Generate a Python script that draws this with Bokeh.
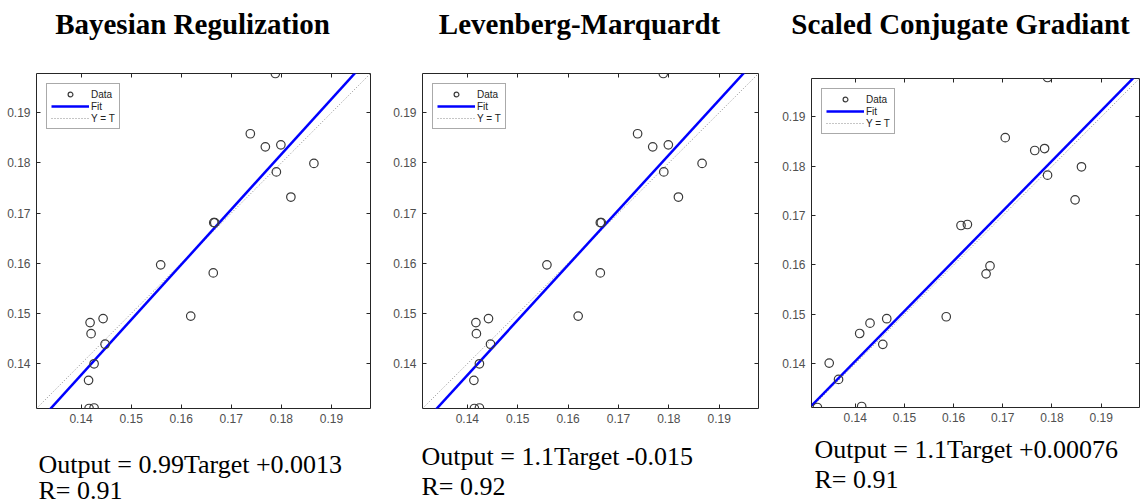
from bokeh.plotting import figure
from bokeh.layouts import row, column
from bokeh.models import Range1d, FixedTicker, LinearAxis, Legend, LegendItem
from bokeh.core.properties import value
from bokeh.embed import file_html
from bokeh.resources import INLINE

# ---------------- data ----------------
titles = ["Bayesian Regulization", "Levenberg-Marquardt", "Scaled Conjugate Gradiant"]
equations = ["Output = 0.99Target +0.0013", "Output = 1.1Target -0.015", "Output = 1.1Target +0.00076"]
r_texts = ["R= 0.91", "R= 0.92", "R= 0.91"]
tick_values = [0.14, 0.15, 0.16, 0.17, 0.18, 0.19]

br_target = [0.1788, 0.1738, 0.1768, 0.1799, 0.1865, 0.1790, 0.1819, 0.1665, 0.1667, 0.1559,
             0.1664, 0.1619, 0.1418, 0.1444, 0.1420, 0.1448, 0.1426, 0.1415, 0.1416, 0.1426]
br_output = [0.1978, 0.1858, 0.1832, 0.1836, 0.1799, 0.1782, 0.1732, 0.1681, 0.1681, 0.1597,
             0.1581, 0.1495, 0.1482, 0.1490, 0.1460, 0.1439, 0.1400, 0.1367, 0.1311, 0.1312]

lm_target = [0.1789, 0.1738, 0.1768, 0.1799, 0.1866, 0.1790, 0.1819, 0.1664, 0.1666, 0.1558,
             0.1664, 0.1620, 0.1417, 0.1442, 0.1418, 0.1446, 0.1424, 0.1413, 0.1414, 0.1424]
lm_output = [0.1978, 0.1858, 0.1832, 0.1836, 0.1799, 0.1782, 0.1732, 0.1681, 0.1681, 0.1597,
             0.1581, 0.1495, 0.1482, 0.1490, 0.1460, 0.1439, 0.1400, 0.1367, 0.1311, 0.1312]

scg_target = [0.1791, 0.1705, 0.1765, 0.1785, 0.1860, 0.1791, 0.1847, 0.1615, 0.1628, 0.1674,
              0.1666, 0.1585, 0.1430, 0.1464, 0.1409, 0.1456, 0.1347, 0.1366, 0.1323, 0.1413]
scg_output = [0.1980, 0.1858, 0.1832, 0.1836, 0.1799, 0.1782, 0.1732, 0.1680, 0.1682, 0.1598,
              0.1582, 0.1495, 0.1482, 0.1491, 0.1461, 0.1439, 0.1401, 0.1368, 0.1311, 0.1313]

fit_slope = [1.099, 1.096, 1.015]
fit_intercept = [-0.0161, -0.0157, -0.0016]
axis_limits = [0.1311, 0.1978]

targets = [br_target, lm_target, scg_target]
outputs = [br_output, lm_output, scg_output]

# ---------------- layout (pixels) ----------------
col_width = [385, 390, 366]
TITLE_H, PLOT_H, EQ_H = 60, 372, 72
# plot borders: left, right, top, bottom
borders = [(36, 15, 13, 24), (37, 17, 13, 24), (36, 2, 18, 25)]
title_pos = [(192, 23), (194, 23), (185, 23)]          # centre x, baseline
eq_pos = [(38, 32, 58), (36, 24, 54), (39, 17, 47)]    # x, baseline line 1, baseline line 2

TICK_FONT = "Liberation Sans"
SERIF = "Liberation Serif"
FRAME = "#262626"


def text_fig(w, h):
    f = figure(width=w, height=h, output_backend="svg", toolbar_location=None, title=None,
               x_range=Range1d(0, w), y_range=Range1d(h, 0),
               x_axis_type=None, y_axis_type=None,
               min_border=0, min_border_left=0, min_border_right=0,
               min_border_top=0, min_border_bottom=0,
               background_fill_color="white", border_fill_color="white")
    f.outline_line_color = None
    f.xgrid.visible = False
    f.ygrid.visible = False
    f.frame_align = False
    return f


def make_plot(i):
    bl, br, bt, bb = borders[i]
    lo, hi = axis_limits
    p = figure(width=col_width[i], height=PLOT_H, output_backend="svg", toolbar_location=None,
               title=None, x_range=Range1d(lo, hi), y_range=Range1d(lo, hi),
               min_border_left=bl, min_border_right=br, min_border_top=bt, min_border_bottom=bb,
               background_fill_color="white", border_fill_color="white")
    p.frame_align = False
    p.xgrid.visible = False
    p.ygrid.visible = False
    p.outline_line_color = FRAME
    p.outline_line_width = 1
    p.outline_line_alpha = 1

    for ax in (p.xaxis[0], p.yaxis[0]):
        ax.ticker = FixedTicker(ticks=tick_values)
        ax.major_tick_in = 4
        ax.major_tick_out = 0
        ax.minor_tick_line_color = None
        ax.axis_line_color = None
        ax.major_tick_line_color = FRAME
        ax.major_label_text_font = TICK_FONT
        ax.major_label_text_font_size = "12px"
        ax.major_label_text_color = "#505050"
    p.xaxis[0].major_label_standoff = 5
    p.yaxis[0].major_label_standoff = 6

    # tick marks on the top and right edges (box style)
    for side in ("above", "right"):
        ax = LinearAxis(ticker=FixedTicker(ticks=tick_values), major_tick_in=4, major_tick_out=0,
                        minor_tick_line_color=None, axis_line_color=None,
                        major_tick_line_color=FRAME, major_label_text_font_size="0px",
                        major_label_standoff=0)
        p.add_layout(ax, side)

    diag = p.line(x=[lo, hi], y=[lo, hi], line_color="#8c8c8c", line_width=1, line_dash="1 2")
    m, c = fit_slope[i], fit_intercept[i]
    fit = p.line(x=[lo, hi], y=[m * lo + c, m * hi + c], line_color="#0000ff", line_width=2.5)
    pts = p.scatter(x=targets[i], y=outputs[i], marker="circle", size=8.5,
                    fill_color=None, line_color="#3a3a3a", line_width=1.2)

    legend = Legend(items=[LegendItem(label="Data", renderers=[pts]),
                           LegendItem(label="Fit", renderers=[fit]),
                           LegendItem(label="Y = T", renderers=[diag])],
                    location="top_left", margin=10, padding=4, spacing=0,
                    glyph_width=38, glyph_height=12, label_height=12, label_standoff=2,
                    label_text_font=TICK_FONT, label_text_font_size="10px",
                    label_text_color="#222222",
                    border_line_color="#555555", border_line_width=1,
                    background_fill_color="white", background_fill_alpha=1)
    p.add_layout(legend, "center")
    return p


def make_column(i):
    w = col_width[i]
    t = text_fig(w, TITLE_H)
    tx, ty = title_pos[i]
    t.text(x=[tx], y=[ty], text=[titles[i]], text_font=value(SERIF),
           text_font_size=value("29px"), text_font_style="bold",
           text_align="center", text_baseline="alphabetic", text_color="black")
    p = make_plot(i)
    e = text_fig(w, EQ_H)
    ex, ey1, ey2 = eq_pos[i]
    e.text(x=[ex, ex], y=[ey1, ey2], text=[equations[i], r_texts[i]], text_font=value(SERIF),
           text_font_size=value("26px"), text_align="left", text_baseline="alphabetic",
           text_color="black")
    return column(t, p, e, spacing=0)


layout = row(*[make_column(i) for i in range(3)], spacing=0)
open("out.html", "w").write(file_html(layout, INLINE))
